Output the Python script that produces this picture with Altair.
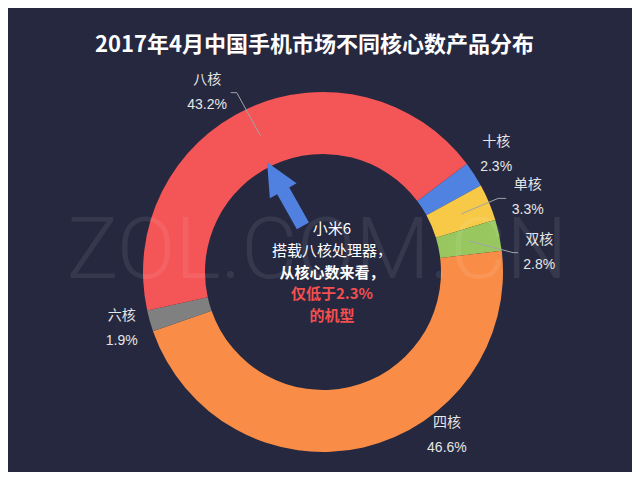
import math
import altair as alt
import pandas as pd

# ---------------- data ----------------
categories = ["十核", "单核", "双核", "四核", "六核", "八核"]
shares = [2.3, 3.3, 2.8, 46.6, 1.9, 43.2]
share_labels = ["2.3%", "3.3%", "2.8%", "46.6%", "1.9%", "43.2%"]

title_text = "2017年4月中国手机市场不同核心数产品分布"
watermark_text = "ZOL.COM.CN"
note_normal = ["小米6", "搭载八核处理器，"]
note_bold = ["从核心数来看，", "仅低于2.3%", "的机型"]

# ---------------- style / layout ----------------
slice_colors = ["#5082e2", "#f7c947", "#97c75e", "#f98d47", "#808080", "#f45556"]
BG = "#25283f"
W, H = 624, 464
CX, CY = 315, 264
R_OUT, R_IN = 180, 118
START_DEG = 53
# label placement (angle nudge from slice middle in degrees, radius in px)
label_nudge = {"十核": -1.2, "单核": 2.7, "双核": 6.8, "四核": -24.2, "六核": 0.2, "八核": -8.1}
label_r = {"十核": 209, "单核": 218, "双核": 217, "四核": 205, "六核": 209, "八核": 214}
# leader lines: (elbow angle nudge, elbow radius, horizontal tail)
leader_style = {"八核": (-1, 199, -6), "单核": (0, 190, 8), "双核": (6, 191, 5)}
FONT = "Liberation Sans, Noto Sans CJK SC"
CJK = "Noto Sans CJK SC"


def polar(deg, r):
    a = math.radians(deg)
    return CX + r * math.sin(a), CY - r * math.cos(a)


total = sum(shares)
mids = []
acc = 0.0
for v in shares:
    mids.append(START_DEG + (acc + v / 2) / total * 360)
    acc += v

df = pd.DataFrame({"cat": categories, "share": shares, "idx": list(range(len(categories)))})

arcs = alt.Chart(df).mark_arc(innerRadius=R_IN, outerRadius=R_OUT).encode(
    theta=alt.Theta(
        "share:Q",
        stack=True,
        scale=alt.Scale(domain=[0, total],
                        range=[math.radians(START_DEG), math.radians(START_DEG) + 2 * math.pi]),
    ),
    color=alt.Color("cat:N", scale=alt.Scale(domain=categories, range=slice_colors), legend=None),
    order=alt.Order("idx:Q"),
    x=alt.value(CX),
    y=alt.value(CY),
)

# labels
lab_rows = []
for c, p, m in zip(categories, share_labels, mids):
    x, y = polar(m + label_nudge[c], label_r[c])
    lab_rows.append({"cat": c, "pct": p, "x": x, "y": y})
lab_df = pd.DataFrame(lab_rows)

names = alt.Chart(lab_df).mark_text(font=FONT, fontSize=14, color="#e6e6e6", dy=-12.5, align="center",
                                    baseline="middle").encode(
    x=alt.X("x:Q", scale=None, axis=None), y=alt.Y("y:Q", scale=None, axis=None), text="cat:N")
pcts = alt.Chart(lab_df).mark_text(font=FONT, fontSize=14, color="#e6e6e6", dy=12.5, align="center",
                                   baseline="middle").encode(
    x=alt.X("x:Q", scale=None, axis=None), y=alt.Y("y:Q", scale=None, axis=None), text="pct:N")

# leader lines
ld_rows = []
for c, m in zip(categories, mids):
    if c not in leader_style:
        continue
    dn, r2, tail = leader_style[c]
    x1, y1 = polar(m, 150)
    x2, y2 = polar(m + dn, r2)
    ld_rows += [
        {"cat": c, "pt": 0, "x": x1, "y": y1},
        {"cat": c, "pt": 1, "x": x2, "y": y2},
        {"cat": c, "pt": 2, "x": x2 + tail, "y": y2},
    ]
ld_df = pd.DataFrame(ld_rows)
leaders = alt.Chart(ld_df).mark_line(color="#a3a3a8", strokeWidth=1).encode(
    x=alt.X("x:Q", scale=None, axis=None), y=alt.Y("y:Q", scale=None, axis=None),
    detail="cat:N", order="pt:Q")

# watermark
wm = alt.Chart(pd.DataFrame({"t": [watermark_text]})).mark_text(
    font="Roboto", fontWeight=300, fontSize=86, color="white", opacity=0.08,
    align="center", baseline="alphabetic").encode(
    text="t:N", x=alt.value(309), y=alt.value(270))

# arrow
ARROW = "M0,-1 L0.42,-0.1 L0.19,-0.1 L0.19,1 L-0.19,1 L-0.19,-0.1 L-0.42,-0.1 Z"
arrow = alt.Chart(pd.DataFrame({"a": [1]})).mark_point(
    shape=ARROW, size=5329, angle=330.6, filled=True, color="#5080e0", opacity=1,
    strokeWidth=0).encode(x=alt.value(277), y=alt.value(186))

# center note
NOTE_X, NOTE_TOP, NOTE_STEP = 324, 221, 21.75
nn_df = pd.DataFrame({"t": note_normal, "y": [NOTE_TOP + i * NOTE_STEP for i in range(2)]})
nb_df = pd.DataFrame({"t": note_bold,
                      "y": [NOTE_TOP + (i + 2) * NOTE_STEP for i in range(3)],
                      "c": ["#ffffff", "#f24f4f", "#f24f4f"]})
note1 = alt.Chart(nn_df).mark_text(font=CJK, fontSize=15, color="#ffffff", align="center",
                                   baseline="middle").encode(
    text="t:N", x=alt.value(NOTE_X), y=alt.Y("y:Q", scale=None, axis=None))
note2 = alt.Chart(nb_df).mark_text(font=CJK, fontSize=15, fontWeight="bold", align="center",
                                   baseline="middle").encode(
    text="t:N", x=alt.value(NOTE_X), y=alt.Y("y:Q", scale=None, axis=None),
    color=alt.Color("c:N", scale=None))

title = alt.Chart(pd.DataFrame({"t": [title_text]})).mark_text(
    font=CJK, fontSize=22, fontWeight="bold", color="#ffffff", align="center",
    baseline="middle").encode(text="t:N", x=alt.value(306.5), y=alt.value(37))

chart = alt.layer(arcs, wm, leaders, names, pcts, arrow, note1, note2, title).properties(
    width=W, height=H, background=BG, padding=0,
    autosize=alt.AutoSizeParams(type="none"),
).configure_view(stroke=None)

chart.save("out.html", embed_options={"renderer": "svg", "actions": False})
